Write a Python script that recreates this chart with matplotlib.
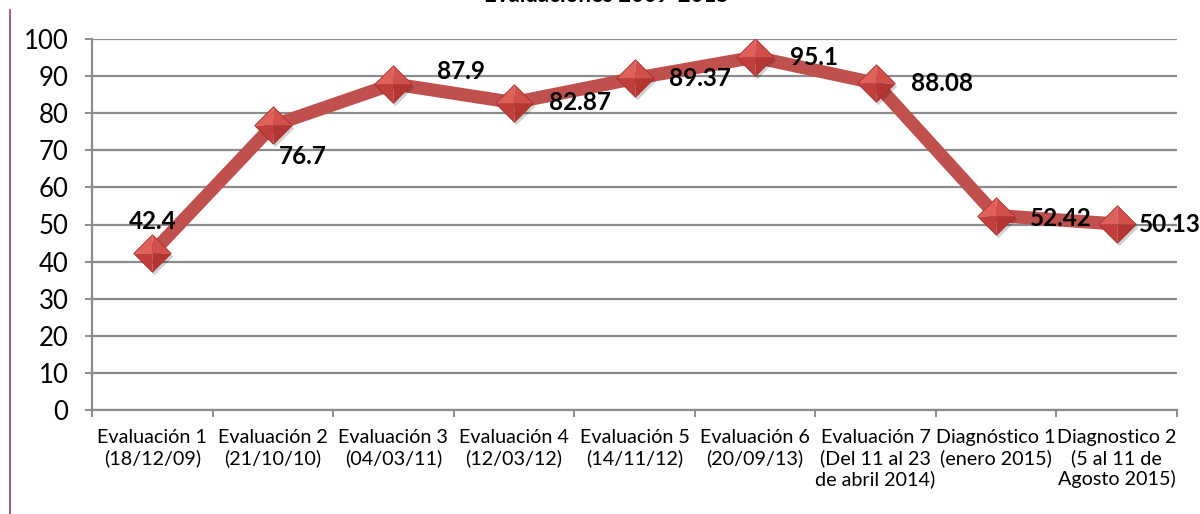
import matplotlib
matplotlib.use("Agg")
import matplotlib.pyplot as plt
import matplotlib.transforms as mtransforms
from matplotlib.path import Path
from matplotlib.lines import Line2D

# ---- data ---------------------------------------------------------------
categories = [
    "Evaluación 1\n(18/12/09)",
    "Evaluación 2\n(21/10/10)",
    "Evaluación 3\n(04/03/11)",
    "Evaluación 4\n(12/03/12)",
    "Evaluación 5\n(14/11/12)",
    "Evaluación 6\n(20/09/13)",
    "Evaluación 7\n(Del 11 al 23\nde abril 2014)",
    "Diagnóstico 1\n(enero 2015)",
    "Diagnostico 2\n(5 al 11 de\nAgosto 2015)",
]
scores = [42.4, 76.7, 87.9, 82.87, 89.37, 95.1, 88.08, 52.42, 50.13]
score_labels = ["42.4", "76.7", "87.9", "82.87", "89.37", "95.1", "88.08", "52.42", "50.13"]
y_ticks = [0, 10, 20, 30, 40, 50, 60, 70, 80, 90, 100]
title = "Evaluaciones 2009-2015"

# label placement (pixel offsets from each point, horizontal alignment)
label_offsets = [(0, 31), (6, -31), (44, 12), (35, 0), (34, 0), (35, 0), (35, 0), (34, -3), (22, 0)]
label_align = ["center", "left", "left", "left", "left", "left", "left", "left", "left"]

FONT = ["Lato", "DejaVu Sans"]
plt.rcParams["font.family"] = FONT

fig = plt.figure(figsize=(12, 5.14), dpi=100)
ax = fig.add_axes([92 / 1200, 1 - 410 / 514, (1177 - 92) / 1200, (410 - 39) / 514])

x = list(range(len(scores)))

# grid and axes styling
grid_c = "#8c8c8c"
ax.set_ylim(0, 100)
ax.set_xlim(-0.5, len(scores) - 0.5)
ax.set_yticks(y_ticks)
ax.yaxis.grid(True, color=grid_c, linewidth=1.6)
ax.set_axisbelow(True)
for side in ("top", "right"):
    ax.spines[side].set_visible(False)
for side in ("left", "bottom"):
    ax.spines[side].set_color(grid_c)
    ax.spines[side].set_linewidth(1.6)
ax.tick_params(axis="y", length=5, width=1.4, color=grid_c, pad=12,
               labelsize=18.5, labelcolor="black")
ax.set_xticks(x)
ax.set_xticklabels(categories, fontsize=14.2, linespacing=1.2)
ax.set_xticks([i - 0.5 for i in range(len(scores) + 1)], minor=True)
ax.tick_params(axis="x", which="major", length=0, pad=14)
ax.tick_params(axis="x", which="minor", length=5, width=1.4, color=grid_c)

# main line
ax.plot(x, scores, color="#c0504d", linewidth=9.5, solid_joinstyle="round",
        solid_capstyle="butt", zorder=3)

# bevelled diamond markers: shadow, then four shaded facets
ms = 27
facets = [
    ([(0, 0), (-1, 0), (0, 1), (0, 0)], "#e0605a"),
    ([(0, 0), (0, 1), (1, 0), (0, 0)], "#d24f4a"),
    ([(0, 0), (1, 0), (0, -1), (0, 0)], "#b33632"),
    ([(0, 0), (0, -1), (-1, 0), (0, 0)], "#c23e3a"),
]
diamond = Path([(0, 1), (1, 0), (0, -1), (-1, 0), (0, 1)], closed=True)
shadow = ax.plot(x, scores, linestyle="none", marker=diamond, markersize=ms,
                 markerfacecolor="#000000", markeredgewidth=0, alpha=0.18, zorder=4)[0]
shadow.set_transform(ax.transData + mtransforms.ScaledTranslation(2 / 100, -3 / 100, fig.dpi_scale_trans))
for verts, col in facets:
    ax.plot(x, scores, linestyle="none", marker=Path(verts, closed=True), markersize=ms,
            markerfacecolor=col, markeredgewidth=0, zorder=5)
ax.plot(x, scores, linestyle="none", marker=diamond, markersize=ms,
        markerfacecolor="none", markeredgecolor="#a8302c", markeredgewidth=0.6, zorder=6)

# value labels
for xi, yi, txt, (dx, dy), ha in zip(x, scores, score_labels, label_offsets, label_align):
    ax.annotate(txt, (xi, yi), xytext=(dx, dy), textcoords="offset pixels",
                ha=ha, va="center", fontsize=17.5, fontweight="bold", color="black",
                zorder=7, annotation_clip=False)

# chart title (sits at the very top edge of the canvas)
fig.text(607 / 1200, 1 - 1.5 / 514, title, ha="center", va="baseline",
         fontsize=16, fontweight="bold", color="black")

# left border rule
fig.add_artist(Line2D([10 / 1200, 10 / 1200], [1 - 10 / 514, 0], color="#a63b78",
                      linewidth=1.2, transform=fig.transFigure))

fig.savefig("out.png", dpi=100, facecolor="white")
